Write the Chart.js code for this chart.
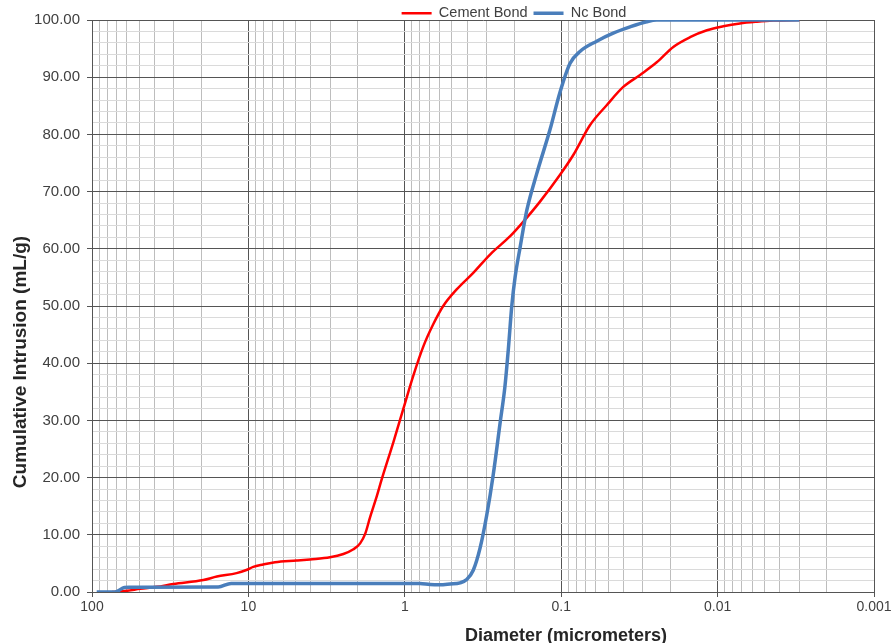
<!DOCTYPE html>
<html>
<head>
<meta charset="utf-8">
<script src="https://cdn.jsdelivr.net/npm/chart.js@4.4.1/dist/chart.umd.min.js"></script>
<style>
  body { margin: 0; background: #fff; }
  #wrap { width: 891px; height: 643px; position: relative; }
</style>
</head>
<body>
<div id="wrap"><canvas id="myChart"></canvas></div>
<script>
// values
const cementDiameter = [74.5, 60.0, 49.3, 38.6, 30.2, 19.4, 15.9, 11.9, 10.3, 9.31, 8.04, 6.76, 4.91, 4.04, 3.01, 2.47, 2.13, 1.93, 1.79, 1.67, 1.51, 1.41, 1.18, 1.02, 0.883, 0.762, 0.658, 0.568, 0.466, 0.365, 0.285, 0.212, 0.179, 0.137, 0.102, 0.0837, 0.0655, 0.0512, 0.0401, 0.0313, 0.0245, 0.0192, 0.0150, 0.0117, 0.0092, 0.0072, 0.0056, 0.0044, 0.0030];
const cementIntrusion = [0, 0.2, 0.55, 0.9, 1.4, 2.1, 2.7, 3.3, 3.85, 4.4, 4.8, 5.2, 5.5, 5.7, 6.06, 6.64, 7.46, 8.5, 10.2, 13.0, 16.75, 19.55, 26.3, 32.1, 37.8, 42.9, 46.8, 50.0, 52.9, 55.8, 59.0, 62.2, 64.4, 68.2, 72.9, 76.4, 81.6, 85.1, 88.3, 90.4, 92.6, 95.3, 97.0, 98.2, 98.9, 99.4, 99.7, 99.9, 100];

const ncDiameter = [93.3, 71.3, 62.0, 58.0, 15.6, 12.9, 4.68, 0.80, 0.69, 0.596, 0.514, 0.443, 0.402, 0.365, 0.330, 0.299, 0.272, 0.246, 0.229, 0.218, 0.207, 0.197, 0.183, 0.166, 0.1435, 0.118, 0.102, 0.0879, 0.0759, 0.0593, 0.0465, 0.0363, 0.0284, 0.0245, 0.0030];
const ncIntrusion = [0, 0, 0.8, 0.85, 0.88, 1.5, 1.5, 1.5, 1.3, 1.25, 1.4, 1.6, 2.2, 3.8, 7.7, 13.5, 20.5, 29.5, 35.9, 42.3, 50.0, 55.1, 60.3, 66.7, 73.1, 80.8, 87.3, 92.4, 94.5, 96.3, 97.7, 98.8, 99.7, 100, 100];

const xDecades = [100, 10, 1, 0.1, 0.01, 0.001];
const xDecadeLabels = ['100', '10', '1', '0.1', '0.01', '0.001'];
const yMin = 0;
const yMax = 100;
const yMajorStep = 10;
const yMinorStep = 2;

const xTitle = 'Diameter (micrometers)';
const yTitle = 'Cumulative Intrusion (mL/g)';

const FONT = '"Liberation Sans", Arial, sans-serif';
const MAJOR = '#555555';
const MINOR_V = '#bdbdbd';
const MINOR_H = '#dadada';

function toPoints(xs, ys) {
    return xs.map(function(x, i) { return { x: x, y: ys[i] }; });
}

// draws the two axis titles and moves the legend over like in the original
const extras = {
    id: 'extras',
    afterLayout: function(chart) {
        chart.legend.left += 77;
        chart.legend.right += 77;
    },
    afterDraw: function(chart) {
        const c = chart.ctx;
        c.save();
        c.fillStyle = '#262626';
        c.textAlign = 'center';
        c.textBaseline = 'alphabetic';
        c.font = 'bold 18px ' + FONT;
        c.fillText(xTitle, 566, 640.5);
        c.translate(25.5, 362);
        c.rotate(-Math.PI / 2);
        c.font = 'bold 19px ' + FONT;
        c.fillText(yTitle, 0, 0);
        c.restore();
    }
};

const ctx = document.getElementById('myChart');

new Chart(ctx, {
    type: 'line',
    data: {
        datasets: [{
            label: 'Nc Bond',
            data: toPoints(ncDiameter, ncIntrusion),
            borderColor: '#4a7ebb',
            backgroundColor: '#4a7ebb',
            borderWidth: 3.5,
            pointRadius: 0,
            cubicInterpolationMode: 'monotone'
        }, {
            label: 'Cement Bond',
            data: toPoints(cementDiameter, cementIntrusion),
            borderColor: '#ff0000',
            backgroundColor: '#ff0000',
            borderWidth: 2.5,
            pointRadius: 0,
            cubicInterpolationMode: 'monotone'
        }]
    },
    options: {
        responsive: true,
        maintainAspectRatio: false,
        animation: false,
        layout: { padding: { left: 0, right: 17, top: 0, bottom: 0 } },
        plugins: {
            tooltip: { enabled: false },
            legend: {
                position: 'top',
                reverse: true,
                maxHeight: 20,
                labels: {
                    boxWidth: 30,
                    boxHeight: 0,
                    padding: 6,
                    color: '#404040',
                    font: { family: FONT, size: 14.5 }
                }
            }
        },
        scales: {
            x: {
                type: 'logarithmic',
                reverse: true,
                min: 0.001,
                max: 100,
                afterBuildTicks: function(scale) {
                    const ticks = [];
                    xDecades.forEach(function(d, i) {
                        ticks.push({ value: d, major: true });
                        if (i < xDecades.length - 1) {
                            for (let m = 9; m >= 2; m--) {
                                ticks.push({ value: d / 10 * m, major: false });
                            }
                        }
                    });
                    scale.ticks = ticks;
                },
                afterFit: function(scale) {
                    scale.height = 51;
                    scale.paddingRight = 0;
                },
                ticks: {
                    autoSkip: false,
                    minRotation: 0,
                    maxRotation: 0,
                    padding: 2,
                    color: '#404040',
                    font: { family: FONT, size: 14 },
                    callback: function(value) {
                        const i = xDecades.indexOf(value);
                        return i >= 0 ? xDecadeLabels[i] : '';
                    }
                },
                grid: {
                    tickLength: 5,
                    color: function(c) {
                        return c.tick && xDecades.indexOf(c.tick.value) >= 0 ? MAJOR : MINOR_V;
                    },
                    tickColor: function(c) {
                        return c.tick && xDecades.indexOf(c.tick.value) >= 0 ? MAJOR : 'rgba(0,0,0,0)';
                    }
                },
                border: { color: MAJOR },
                title: { display: false }
            },
            y: {
                type: 'linear',
                min: yMin,
                max: yMax,
                afterBuildTicks: function(scale) {
                    const ticks = [];
                    for (let v = yMin; v <= yMax; v += yMinorStep) {
                        ticks.push({ value: v });
                    }
                    scale.ticks = ticks;
                },
                afterFit: function(scale) {
                    scale.width = 92;
                },
                ticks: {
                    autoSkip: false,
                    padding: 7,
                    color: '#404040',
                    font: { family: FONT, size: 15 },
                    callback: function(value) {
                        return value % yMajorStep === 0 ? value.toFixed(2) : '';
                    }
                },
                grid: {
                    tickLength: 5,
                    color: function(c) {
                        return c.tick && c.tick.value % yMajorStep === 0 ? MAJOR : MINOR_H;
                    },
                    tickColor: function(c) {
                        return c.tick && c.tick.value % yMajorStep === 0 ? MAJOR : 'rgba(0,0,0,0)';
                    }
                },
                border: { color: MAJOR },
                title: { display: false }
            }
        }
    },
    plugins: [extras]
});
</script>
</body>
</html>
